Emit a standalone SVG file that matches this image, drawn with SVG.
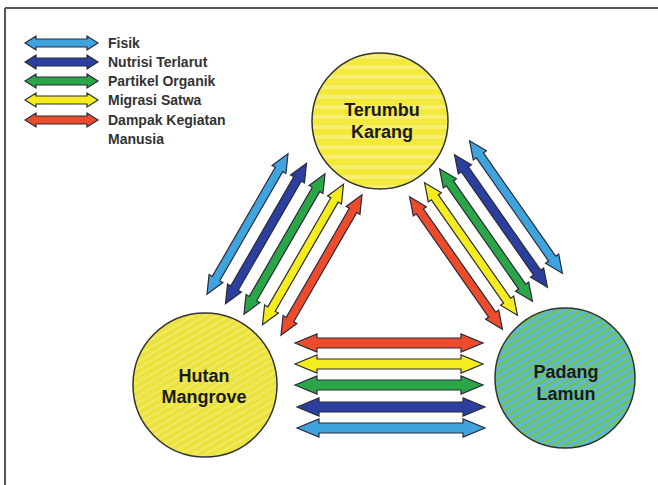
<svg xmlns="http://www.w3.org/2000/svg" xmlns:xlink="http://www.w3.org/1999/xlink" width="658" height="485" viewBox="0 0 658 485">
<style>
.ar{stroke:#2a2a3a;stroke-width:1.2;stroke-linejoin:miter}
.fisik{fill:#3fa4de}
.nutri{fill:#2c3f9e}
.parti{fill:#2aa647}
.migra{fill:#f4ec1c}
.dampa{fill:#ec4b2c}
.leg{font-family:"Liberation Sans",Arial,sans-serif;font-size:14px;font-weight:bold;fill:#333}
.lbl{font-family:"Liberation Sans",Arial,sans-serif;font-size:18px;font-weight:bold;fill:#1a1a1a;text-anchor:middle}
.node{stroke:#333;stroke-width:1.5}
</style>
<defs>
<pattern id="pTK" width="10" height="10" patternUnits="userSpaceOnUse">
<rect width="10" height="10" fill="#f2e93a"/>
<rect y="5" width="10" height="4" fill="#f6ef74"/>
</pattern>
<pattern id="pHM" width="6" height="6" patternUnits="userSpaceOnUse" patternTransform="rotate(-30)">
<rect width="6" height="6" fill="#ece33c"/>
<rect y="3" width="6" height="2" fill="#f1ea66"/>
</pattern>
<pattern id="pPL" width="6" height="6" patternUnits="userSpaceOnUse" patternTransform="rotate(-30)">
<rect width="6" height="6" fill="#6ec35e"/>
<rect y="3" width="6" height="3" fill="#5cb9dc"/>
</pattern>
<polygon id="diag" points="-81,0 -63,-8 -63,-4.3 63,-4.3 63,-8 81,0 63,8 63,4.3 -63,4.3 -63,8"/>
<polygon id="hor" points="-94,0 -72,-9 -72,-5 72,-5 72,-9 94,0 72,9 72,5 -72,5 -72,9"/>
<polygon id="legar" points="-36.5,0 -25.5,-7 -25.5,-4 25.5,-4 25.5,-7 36.5,0 25.5,7 25.5,4 -25.5,4 -25.5,7"/>
</defs>
<rect width="658" height="485" fill="#fff"/>
<g id="frame" stroke="#555" stroke-width="2" fill="none">
<line x1="5" y1="8" x2="658" y2="8"/>
<line x1="5" y1="8" x2="5" y2="485"/>
</g>
<g id="legend">
<use xlink:href="#legar" class="ar fisik" transform="translate(61.5,43)"/>
<use xlink:href="#legar" class="ar nutri" transform="translate(61.5,62)"/>
<use xlink:href="#legar" class="ar parti" transform="translate(61.5,81)"/>
<use xlink:href="#legar" class="ar migra" transform="translate(61.5,100)"/>
<use xlink:href="#legar" class="ar dampa" transform="translate(61.5,120)"/>
<text class="leg" x="108" y="48">Fisik</text>
<text class="leg" x="108" y="67">Nutrisi Terlarut</text>
<text class="leg" x="108" y="86">Partikel Organik</text>
<text class="leg" x="108" y="105">Migrasi Satwa</text>
<text class="leg" x="108" y="125">Dampak Kegiatan</text>
<text class="leg" x="108" y="144">Manusia</text>
</g>
<g id="connectors">
<use xlink:href="#diag" class="ar fisik" transform="translate(247.5,224) rotate(-60)"/>
<use xlink:href="#diag" class="ar nutri" transform="translate(266,233.5) rotate(-60)"/>
<use xlink:href="#diag" class="ar parti" transform="translate(284.5,244) rotate(-60)"/>
<use xlink:href="#diag" class="ar migra" transform="translate(303,254.5) rotate(-60)"/>
<use xlink:href="#diag" class="ar dampa" transform="translate(321.5,265) rotate(-60)"/>
<use xlink:href="#diag" class="ar dampa" transform="translate(456,263) rotate(55)"/>
<use xlink:href="#diag" class="ar migra" transform="translate(471,249) rotate(55)"/>
<use xlink:href="#diag" class="ar parti" transform="translate(486,235) rotate(55)"/>
<use xlink:href="#diag" class="ar nutri" transform="translate(501,221) rotate(55)"/>
<use xlink:href="#diag" class="ar fisik" transform="translate(516,207) rotate(55)"/>
<use xlink:href="#hor" class="ar dampa" transform="translate(389,343)"/>
<use xlink:href="#hor" class="ar migra" transform="translate(389,364)"/>
<use xlink:href="#hor" class="ar parti" transform="translate(389,385)"/>
<use xlink:href="#hor" class="ar nutri" transform="translate(391,407)"/>
<use xlink:href="#hor" class="ar fisik" transform="translate(391,428)"/>
</g>
<g id="terumbu-karang">
<circle class="node" cx="380" cy="121" r="68" fill="url(#pTK)"/>
<text class="lbl" x="382" y="116">Terumbu</text>
<text class="lbl" x="382" y="138">Karang</text>
</g>
<g id="hutan-mangrove">
<circle class="node" cx="205" cy="385" r="72" fill="url(#pHM)"/>
<text class="lbl" x="204" y="382">Hutan</text>
<text class="lbl" x="204" y="403">Mangrove</text>
</g>
<g id="padang-lamun">
<circle class="node" cx="565" cy="378" r="70" fill="url(#pPL)"/>
<text class="lbl" x="566" y="378">Padang</text>
<text class="lbl" x="566" y="400">Lamun</text>
</g>
</svg>
